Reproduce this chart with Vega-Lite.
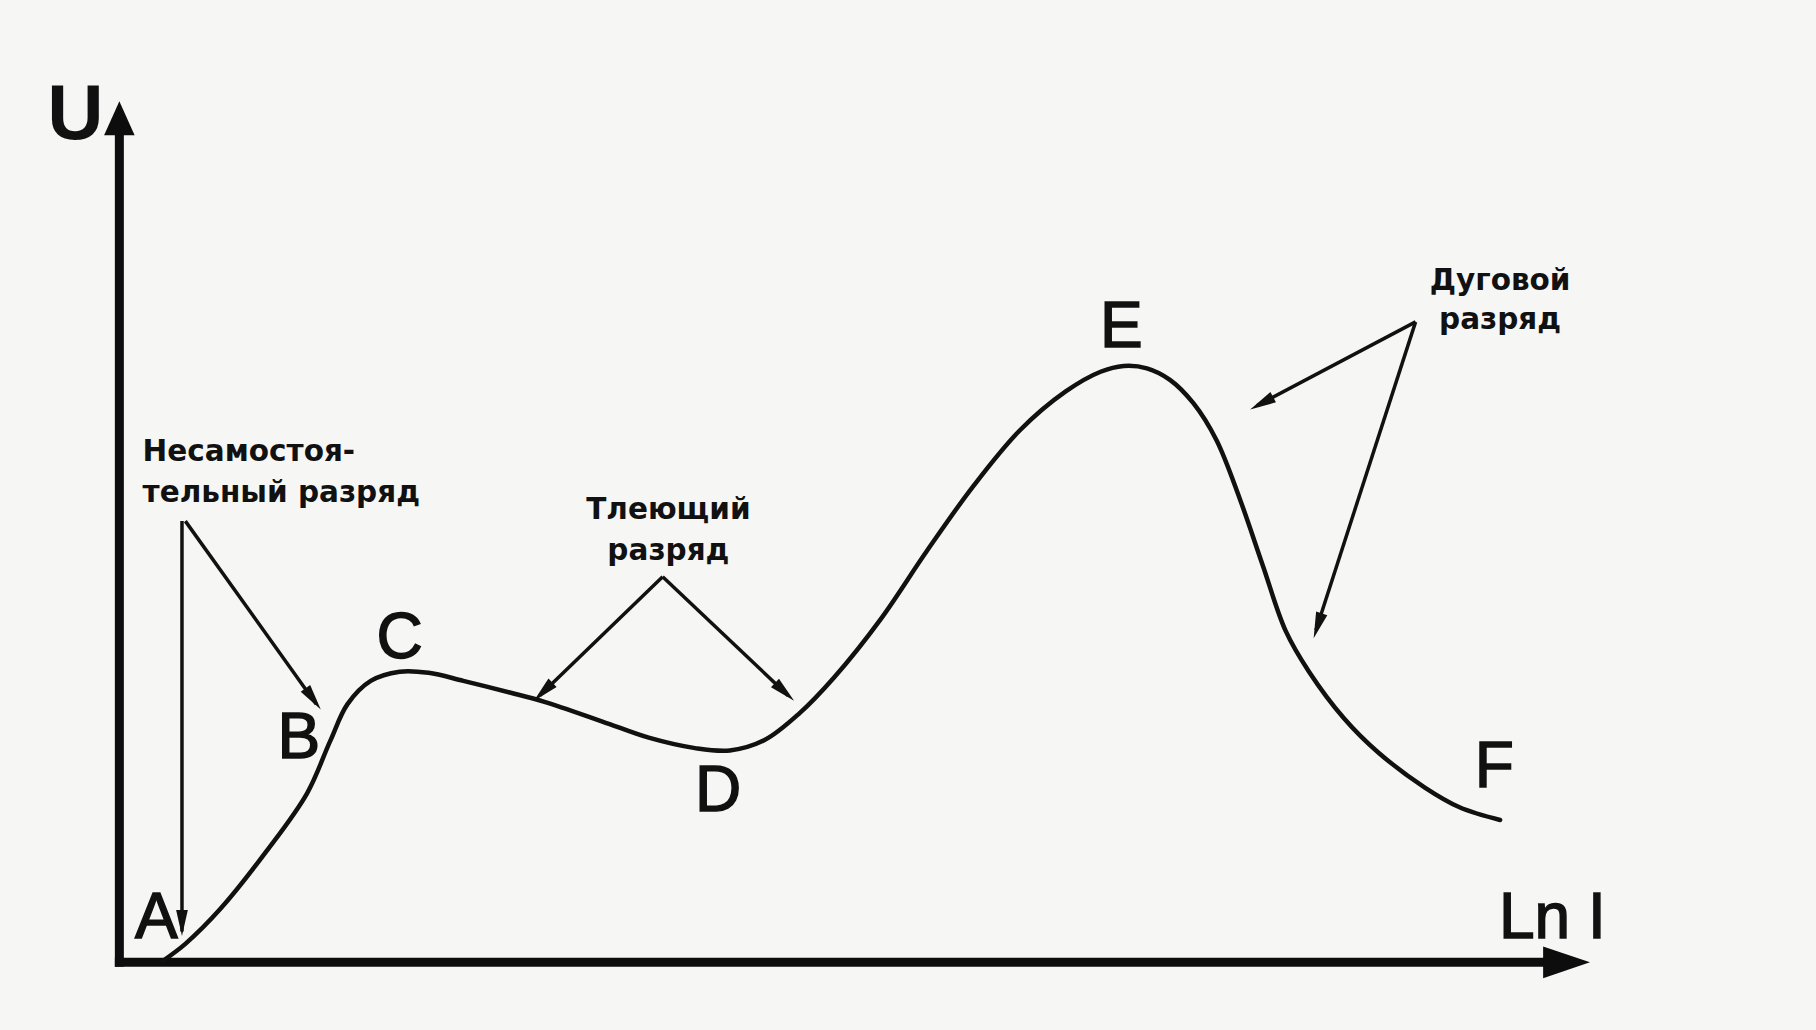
{
  "$schema": "https://vega.github.io/schema/vega-lite/v6.json",
  "width": 1816,
  "height": 1030,
  "autosize": {"type": "fit", "contains": "padding"},
  "padding": 0,
  "background": "#f6f6f5",
  "config": {"view": {"stroke": null}},
  "datasets": {
    "curve": [
      {"x": 2.92, "y": 0.13}, {"x": 4.49, "y": 2.15}, {"x": 6.86, "y": 6.19}, {"x": 10.01, "y": 12.92},
      {"x": 12.77, "y": 19.65}, {"x": 14.34, "y": 25.71}, {"x": 15.52, "y": 30.01}, {"x": 17.10, "y": 32.71},
      {"x": 19.07, "y": 33.78}, {"x": 21.04, "y": 33.65}, {"x": 23.40, "y": 32.71}, {"x": 26.56, "y": 31.36},
      {"x": 28.92, "y": 30.28}, {"x": 32.86, "y": 27.99}, {"x": 36.01, "y": 26.11}, {"x": 39.16, "y": 24.90},
      {"x": 41.53, "y": 24.63}, {"x": 43.89, "y": 25.84}, {"x": 46.26, "y": 28.94}, {"x": 48.62, "y": 33.11},
      {"x": 51.77, "y": 39.84}, {"x": 54.92, "y": 47.78}, {"x": 58.08, "y": 55.32}, {"x": 61.23, "y": 61.78},
      {"x": 64.38, "y": 66.35}, {"x": 66.75, "y": 68.64}, {"x": 68.32, "y": 69.31}, {"x": 69.90, "y": 69.04},
      {"x": 71.47, "y": 67.70}, {"x": 73.05, "y": 65.01}, {"x": 74.63, "y": 60.70}, {"x": 76.20, "y": 53.97},
      {"x": 77.78, "y": 46.16}, {"x": 79.35, "y": 38.49}, {"x": 80.93, "y": 33.78}, {"x": 83.29, "y": 28.40},
      {"x": 85.66, "y": 24.36}, {"x": 88.81, "y": 20.32}, {"x": 91.17, "y": 18.03}, {"x": 93.93, "y": 16.55}
    ],
    "axes": [
      {"seg": "y", "o": 0, "x": 0, "y": 0}, {"seg": "y", "o": 1, "x": 0, "y": 96},
      {"seg": "x", "o": 0, "x": 0, "y": 0}, {"seg": "x", "o": 1, "x": 98, "y": 0}
    ],
    "yHead": [{"x": 0, "y": 98.1, "angle": 0}],
    "xHead": [{"x": 98.45, "y": 0, "angle": 90}],
    "pointers": [
      {"seg": "a1", "o": 0, "x": 4.26, "y": 51.28}, {"seg": "a1", "o": 1, "x": 4.26, "y": 3.6},
      {"seg": "a2", "o": 0, "x": 4.49, "y": 51.28}, {"seg": "a2", "o": 1, "x": 13.4, "y": 30.0},
      {"seg": "a3", "o": 0, "x": 36.96, "y": 44.82}, {"seg": "a3", "o": 1, "x": 28.6, "y": 31.0},
      {"seg": "a4", "o": 0, "x": 36.96, "y": 44.82}, {"seg": "a4", "o": 1, "x": 45.5, "y": 31.0},
      {"seg": "a5", "o": 0, "x": 88.18, "y": 74.43}, {"seg": "a5", "o": 1, "x": 77.4, "y": 64.7},
      {"seg": "a6", "o": 0, "x": 88.18, "y": 74.43}, {"seg": "a6", "o": 1, "x": 81.4, "y": 38.6}
    ],
    "pointerHeads": [
      {"x": 4.26, "y": 4.58, "angle": 180},
      {"x": 13.18, "y": 30.62, "angle": 144},
      {"x": 28.83, "y": 31.44, "angle": 226},
      {"x": 45.25, "y": 31.43, "angle": 133},
      {"x": 77.71, "y": 64.97, "angle": 242},
      {"x": 81.52, "y": 39.11, "angle": 198}
    ],
    "points": [
      {"x": 2.52, "y": 5.52, "label": "A"},
      {"x": 12.21, "y": 26.38, "label": "B"},
      {"x": 19.07, "y": 38.09, "label": "C"},
      {"x": 40.74, "y": 20.32, "label": "D"},
      {"x": 68.16, "y": 74.16, "label": "E"},
      {"x": 93.54, "y": 23.01, "label": "F"},
      {"x": 97.48, "y": 5.52, "label": "Ln I"}
    ],
    "axisTitle": [
      {"x": -2.99, "y": 98.79, "label": "U"}
    ],
    "notesLeft": [
      {"x": 1.58, "y": 59.35, "label": "Несамостоя-"},
      {"x": 1.58, "y": 54.51, "label": "тельный разряд"}
    ],
    "notesCenter": [
      {"x": 37.35, "y": 52.62, "label": "Тлеющий"},
      {"x": 37.35, "y": 47.78, "label": "разряд"},
      {"x": 93.93, "y": 79.14, "label": "Дуговой"},
      {"x": 93.93, "y": 74.70, "label": "разряд"}
    ]
  },
  "encoding": {
    "x": {"field": "x", "type": "quantitative", "scale": {"domain": [-8.12, 115.42], "nice": false, "zero": false}, "axis": null},
    "y": {"field": "y", "type": "quantitative", "scale": {"domain": [-7.86, 111.84], "nice": false, "zero": false}, "axis": null}
  },
  "layer": [
    {
      "data": {"name": "axes"},
      "mark": {"type": "line", "color": "#0d0d0d", "strokeWidth": 9, "strokeCap": "square"},
      "encoding": {"detail": {"field": "seg"}, "order": {"field": "o"}}
    },
    {
      "data": {"name": "yHead"},
      "mark": {"type": "point", "shape": "M0,-1L0.9,1L-0.9,1Z", "filled": true, "color": "#0d0d0d", "size": 1150, "opacity": 1},
      "encoding": {"angle": {"field": "angle", "type": "quantitative", "scale": null}}
    },
    {
      "data": {"name": "xHead"},
      "mark": {"type": "point", "shape": "M0,-1L0.68,1L-0.68,1Z", "filled": true, "color": "#0d0d0d", "size": 2200, "opacity": 1},
      "encoding": {"angle": {"field": "angle", "type": "quantitative", "scale": null}}
    },
    {
      "data": {"name": "curve"},
      "mark": {"type": "line", "color": "#111111", "strokeWidth": 4.5, "interpolate": "catmull-rom", "strokeCap": "round"},
      "encoding": {}
    },
    {
      "data": {"name": "pointers"},
      "mark": {"type": "line", "color": "#111111", "strokeWidth": 3.5},
      "encoding": {"detail": {"field": "seg"}, "order": {"field": "o"}}
    },
    {
      "data": {"name": "pointerHeads"},
      "mark": {"type": "point", "shape": "M0,-1L0.45,1L-0.45,1Z", "filled": true, "color": "#111111", "size": 680, "opacity": 1},
      "encoding": {"angle": {"field": "angle", "type": "quantitative", "scale": null}}
    },
    {
      "data": {"name": "points"},
      "mark": {"type": "text", "font": "Liberation Sans", "fontSize": 64, "color": "#111111", "stroke": "#111111", "strokeWidth": 1.5, "baseline": "middle", "align": "center", "dy": 4},
      "encoding": {"text": {"field": "label"}}
    },
    {
      "data": {"name": "axisTitle"},
      "mark": {"type": "text", "font": "Liberation Sans", "fontSize": 78, "fontWeight": "bold", "color": "#111111", "baseline": "middle", "align": "center", "dy": 4},
      "encoding": {"text": {"field": "label"}}
    },
    {
      "data": {"name": "notesLeft"},
      "mark": {"type": "text", "font": "DejaVu Sans", "fontSize": 29.5, "fontWeight": "bold", "color": "#111111", "baseline": "middle", "align": "left"},
      "encoding": {"text": {"field": "label"}}
    },
    {
      "data": {"name": "notesCenter"},
      "mark": {"type": "text", "font": "DejaVu Sans", "fontSize": 29.5, "fontWeight": "bold", "color": "#111111", "baseline": "middle", "align": "center"},
      "encoding": {"text": {"field": "label"}}
    }
  ]
}
